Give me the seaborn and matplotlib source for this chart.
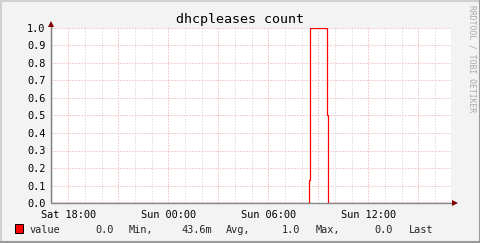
import matplotlib
matplotlib.use("Agg")
import matplotlib.pyplot as plt
from matplotlib.lines import Line2D
from matplotlib.patches import Rectangle
import seaborn as sns
import pandas as pd
import math

# ---- data (hours since Sat 00:00) ----
hours = [16.96, 32.42, 32.50, 33.54, 33.60, 40.96]
values = [0.0, 0.13, 1.0, 0.5, 0.0, 0.0]
xtick_hours = [18, 24, 30, 36]
xtick_labels = ["Sat 18:00", "Sun 00:00", "Sun 06:00", "Sun 12:00"]
ytick_values = [0.0, 0.1, 0.2, 0.3, 0.4, 0.5, 0.6, 0.7, 0.8, 0.9, 1.0]
ytick_labels = ["0.0", "0.1", "0.2", "0.3", "0.4", "0.5", "0.6", "0.7", "0.8", "0.9", "1.0"]
title = "dhcpleases count"
series_name = "value"
legend_items = ["0.0", "Min,", "43.6m", "Avg,", "1.0", "Max,", "0.0", "Last"]
watermark = "RRDTOOL / TOBI OETIKER"

sns.set_theme(style="white")
plt.rcParams["font.family"] = ["DejaVu Sans Mono", "DejaVu Sans"]

W, H = 481, 243
fig = plt.figure(figsize=(W / 100, H / 100), dpi=100)
fig.patch.set_facecolor("#f3f3f3")

def fx(px):
    return px / W

def fy(py):
    return 1 - py / H

L, R, T, B = 51, 451, 28, 203
ax = fig.add_axes([fx(L), fy(B), (R - L) / W, (B - T) / H])
ax.set_facecolor("white")

x0, x1 = hours[0], hours[-1]
ax.set_xlim(x0, x1)
ax.set_ylim(0, 1.0)

# grid: minor hourly gray, major every 3h red-ish
h = math.ceil(x0)
while h <= x1:
    col = "#eaa0a0" if h % 3 == 0 else "#cfcfcf"
    ax.axvline(h, color=col, lw=0.72, linestyle=(0, (1, 2)), zorder=1)
    h += 1
for yv in ytick_values[1:]:
    ax.axhline(yv, color="#eaa0a0", lw=0.72, linestyle=(0, (1, 2)), zorder=1)

df = pd.DataFrame({"t": hours, "v": values})
sns.lineplot(data=df, x="t", y="v", ax=ax, estimator=None, drawstyle="steps-post",
             color="#ff0000", lw=0.9, zorder=3, legend=False)

for s in ax.spines.values():
    s.set_visible(False)

# axes lines
ax.plot([x0, x1 + 0.2], [0, 0], color=(0.25, 0.25, 0.25), alpha=0.6, lw=1.0, zorder=4,
        clip_on=False, solid_capstyle="butt")
ax.plot([x0, x0], [0, 1.03], color="#808080", lw=1.0, zorder=4, clip_on=False,
        solid_capstyle="butt")
# arrows
ax.plot([x0], [1.025], marker="^", color="#7f0000", markersize=4.2, clip_on=False, zorder=5,
        markeredgewidth=0)
ax.plot([x1 + 0.27], [0], marker=">", color="#7f0000", markersize=4.2, clip_on=False, zorder=5,
        markeredgewidth=0)

ax.set_xticks(xtick_hours)
ax.set_xticklabels(xtick_labels)
ax.set_yticks(ytick_values)
ax.set_yticklabels(ytick_labels)
ax.tick_params(axis="both", length=2, width=0.7, color="#808080", labelsize=7.4,
               labelcolor="#000000", pad=2, direction="out")
ax.tick_params(axis="x", pad=3)
ax.set_xlabel("")
ax.set_ylabel("")

# title
fig.text(fx(240), fy(23), title, ha="center", va="baseline", fontsize=9.6, color="#000000")

# watermark
fig.text(fx(472), fy(5), watermark, ha="center", va="top", rotation=270,
         fontsize=5.8, color="#a8a8a8")

# legend
fig.patches.append(Rectangle((fx(15), fy(233)), 8 / W, 9 / H, transform=fig.transFigure,
                             facecolor="#ff0000", edgecolor="#000000", lw=0.7))
fig.text(fx(30), fy(233), series_name, ha="left", va="baseline", fontsize=7.4)
leg_x = [95.7, 129, 181, 226, 281.7, 316, 374, 409.3]
for xp, txt in zip(leg_x, legend_items):
    fig.text(fx(xp), fy(233), txt, ha="left", va="baseline", fontsize=7.4)

# 3D border
fig.add_artist(Line2D([0, 1], [fy(0.75), fy(0.75)], transform=fig.transFigure, color="#d0d0d0", lw=1.5))
fig.add_artist(Line2D([fx(0.75), fx(0.75)], [0, 1], transform=fig.transFigure, color="#d0d0d0", lw=1.5))
fig.add_artist(Line2D([0, 1], [fy(242.25), fy(242.25)], transform=fig.transFigure, color="#9a9a9a", lw=1.5))
fig.add_artist(Line2D([fx(480.25), fx(480.25)], [0, 1], transform=fig.transFigure, color="#9a9a9a", lw=1.5))

fig.savefig("out.png", dpi=100, facecolor=fig.get_facecolor())
